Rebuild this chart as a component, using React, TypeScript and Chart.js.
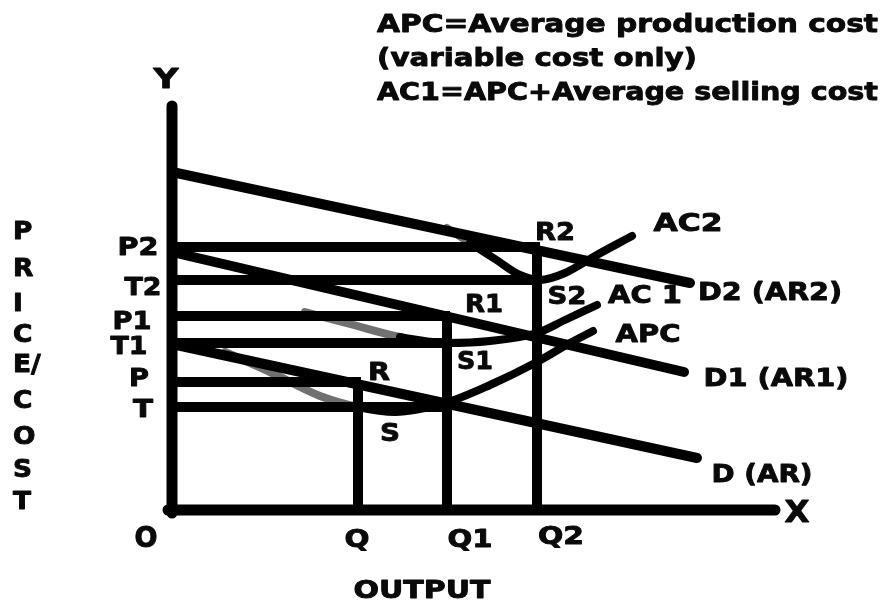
import { useEffect, useRef } from 'react';
import { Chart, registerables } from 'chart.js';

Chart.register(...registerables);

// ---- Data (x = output units, y = price/cost units) ----
const yAxisLine = [{ x: 0, y: 404 }, { x: 0, y: -3 }];
const xAxisLine = [{ x: -4, y: 0 }, { x: 603, y: 0 }];

const demandD2 = [{ x: 0, y: 338 }, { x: 518, y: 227 }];
const demandD1 = [{ x: 0, y: 258 }, { x: 512, y: 138 }];
const demandD = [{ x: 0, y: 166 }, { x: 525, y: 52 }];

// price / cost levels
const P2 = 263, T2 = 230, P1 = 194, T1 = 167, P = 128, T = 103;
// output levels
const Q = 186, Q1 = 275, Q2 = 365;

const lineP2 = [{ x: 0, y: P2 }, { x: Q2 + 3, y: P2 }];
const lineT2 = [{ x: 0, y: T2 }, { x: Q2 + 3, y: T2 }];
const lineP1 = [{ x: 0, y: P1 }, { x: Q1 + 3, y: P1 }];
const lineT1 = [{ x: 0, y: T1 }, { x: Q1 + 3, y: T1 }];
const lineP = [{ x: 0, y: P }, { x: Q + 3, y: P }];
const lineT = [{ x: 0, y: T }, { x: Q1, y: T }];

const vertQ = [{ x: Q, y: P }, { x: Q, y: 0 }];
const vertQ1 = [{ x: Q1, y: P1 }, { x: Q1, y: 0 }];
const vertQ2 = [{ x: Q2, y: P2 }, { x: Q2, y: 0 }];

const curveAC2 = [
  { x: 275, y: 282 }, { x: 298, y: 267 }, { x: 323, y: 251 }, { x: 348, y: 235 },
  { x: 368, y: 230 }, { x: 393, y: 237 }, { x: 423, y: 254 }, { x: 460, y: 274 },
];
const curveAC1 = [
  { x: 133, y: 198 }, { x: 178, y: 186 }, { x: 228, y: 173 }, { x: 275, y: 167 },
  { x: 318, y: 169 }, { x: 365, y: 177 }, { x: 393, y: 190 }, { x: 425, y: 205 },
];
const curveAPC = [
  { x: 53, y: 158 }, { x: 98, y: 138 }, { x: 148, y: 114 }, { x: 186, y: 103 },
  { x: 223, y: 98 }, { x: 273, y: 107 }, { x: 318, y: 125 }, { x: 365, y: 148 },
  { x: 398, y: 167 }, { x: 421, y: 179 },
];

// ---- Text ----
type Lbl = { t: string; x: number; y: number; size: number; w?: number; align?: CanvasTextAlign; base?: boolean };

const noteLines = [
  'APC=Average production cost',
  '(variable cost only)',
  'AC1=APC+Average selling cost',
];
const yAxisTitle = ['P', 'R', 'I', 'C', 'E/', 'C', 'O', 'S', 'T'];
const yAxisTitleY = [280, 243, 208, 177, 147, 111, 75, 42, 10];

const labels: Lbl[] = [
  { t: noteLines[0], x: 205, y: 478, size: 25, w: 501, align: 'left', base: true },
  { t: noteLines[1], x: 205, y: 444, size: 25, w: 320, align: 'left', base: true },
  { t: noteLines[2], x: 205, y: 410, size: 25, w: 501, align: 'left', base: true },
  { t: 'Y', x: -6, y: 432, size: 27, w: 25 },
  { t: 'X', x: 625, y: -1, size: 30, w: 25 },
  { t: 'O', x: -26, y: -26, size: 29, w: 23 },
  { t: 'P2', x: -34, y: 264, size: 24, w: 41 },
  { t: 'T2', x: -29, y: 224, size: 24, w: 37 },
  { t: 'P1', x: -40, y: 190, size: 24, w: 39 },
  { t: 'T1', x: -43, y: 165, size: 24, w: 37 },
  { t: 'P', x: -33, y: 133, size: 24, w: 20 },
  { t: 'T', x: -29, y: 102, size: 24, w: 20 },
  { t: 'Q', x: 185, y: -28, size: 25, w: 25 },
  { t: 'Q1', x: 298, y: -28, size: 25, w: 45 },
  { t: 'Q2', x: 389, y: -25, size: 25, w: 46 },
  { t: 'OUTPUT', x: 250, y: -79, size: 25, w: 137 },
  { t: 'R2', x: 383, y: 279, size: 25, w: 40 },
  { t: 'AC2', x: 516, y: 288, size: 25, w: 69 },
  { t: 'S2', x: 395, y: 215, size: 25, w: 39 },
  { t: 'AC 1', x: 473, y: 216, size: 25, w: 74 },
  { t: 'D2 (AR2)', x: 598, y: 219, size: 25, w: 144 },
  { t: 'R1', x: 312, y: 207, size: 25, w: 38 },
  { t: 'APC', x: 476, y: 177, size: 25, w: 65 },
  { t: 'S1', x: 303, y: 150, size: 25, w: 36 },
  { t: 'D1 (AR1)', x: 604, y: 133, size: 25, w: 145 },
  { t: 'R', x: 207, y: 139, size: 25, w: 22 },
  { t: 'S', x: 218, y: 78, size: 25, w: 20 },
  { t: 'D (AR)', x: 590, y: 37, size: 25, w: 101 },
  ...yAxisTitle.map((t, i) => ({ t, x: -159, y: yAxisTitleY[i], size: 24, align: 'left' as CanvasTextAlign })),
];

const textPlugin = {
  id: 'diagramText',
  afterDatasetsDraw(chart: any) {
    const { ctx } = chart;
    const xs = chart.scales.x, ys = chart.scales.y;
    ctx.save();
    ctx.fillStyle = '#0a0a0a';
    ctx.strokeStyle = '#0a0a0a';
    ctx.lineWidth = 0.9;
    ctx.lineJoin = 'round';
    for (const l of labels) {
      ctx.font = `bold ${l.size}px "DejaVu Sans"`;
      const m = ctx.measureText(l.t).width;
      const sx = l.w ? l.w / m : 1.1;
      const px = xs.getPixelForValue(l.x);
      const py = ys.getPixelForValue(l.y);
      const base = l.base ? py : py + l.size * 0.365;
      ctx.save();
      ctx.translate(px, base);
      ctx.scale(sx, 1);
      ctx.textAlign = l.align ?? 'center';
      ctx.textBaseline = 'alphabetic';
      ctx.fillText(l.t, 0, 0);
      ctx.strokeText(l.t, 0, 0);
      ctx.restore();
    }
    ctx.restore();
  },
};

function seg(data: { x: number; y: number }[], width: number, cap: CanvasLineCap = 'butt', extra: any = {}) {
  return {
    data,
    showLine: true,
    borderColor: '#000',
    borderWidth: width,
    borderCapStyle: cap,
    pointRadius: 0,
    pointHoverRadius: 0,
    clip: false,
    fill: false,
    ...extra,
  };
}

export default function App() {
  const ref = useRef<HTMLCanvasElement | null>(null);
  useEffect(() => {
    if (!ref.current) return;
    const grey = (n: number) => (c: any) => (c.p0DataIndex < n ? '#707070' : '#000');
    const chart = new Chart(ref.current, {
      type: 'scatter',
      data: {
        datasets: [
          seg(yAxisLine, 11, 'round'),
          seg(xAxisLine, 11, 'round'),
          seg(demandD2, 10, 'round'),
          seg(demandD1, 10, 'round'),
          seg(demandD, 10, 'round'),
          seg(lineP2, 10),
          seg(lineT2, 10),
          seg(lineP1, 10),
          seg(lineT1, 10),
          seg(lineP, 10),
          seg(lineT, 10),
          seg(vertQ, 10),
          seg(vertQ1, 10),
          seg(vertQ2, 10),
          seg(curveAC2, 8, 'round', { cubicInterpolationMode: 'monotone', segment: { borderColor: grey(1) } }),
          seg(curveAC1, 8, 'round', { cubicInterpolationMode: 'monotone', segment: { borderColor: grey(2) } }),
          seg(curveAPC, 8, 'round', { cubicInterpolationMode: 'monotone', segment: { borderColor: grey(3) } }),
        ] as any,
      },
      options: {
        responsive: false,
        animation: false,
        layout: { padding: { left: 172, right: 87, top: 60, bottom: 92 } },
        scales: {
          x: { type: 'linear', min: 0, max: 628, display: false },
          y: { type: 'linear', min: 0, max: 450, display: false },
        },
        plugins: { legend: { display: false }, tooltip: { enabled: false } },
      },
      plugins: [textPlugin],
    });
    return () => chart.destroy();
  }, []);
  return (
    <div style={{ position: 'fixed', left: 0, top: 0, width: 887, height: 602, background: '#fff' }}>
      <canvas ref={ref} width={887} height={602} style={{ display: 'block' }} />
    </div>
  );
}
